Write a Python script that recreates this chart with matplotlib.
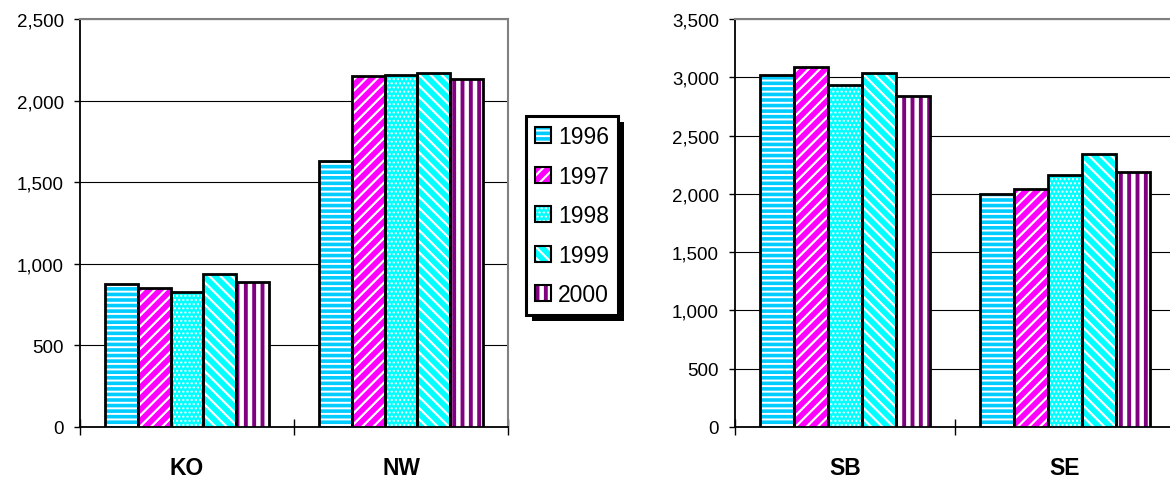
import numpy as np
import matplotlib.pyplot as plt
from matplotlib.patches import Patch, Rectangle
from matplotlib.legend_handler import HandlerTuple, HandlerPatch
from matplotlib.ticker import FuncFormatter

plt.rcParams['font.family'] = ['Liberation Sans', 'DejaVu Sans']

# Daten
years = ['1996', '1997', '1998', '1999', '2000']
regions_left = ['KO', 'NW']
regions_right = ['SB', 'SE']
ko = [876, 852, 827, 937, 888]
nw = [1630, 2149, 2157, 2169, 2132]
sb = [3017, 3085, 2938, 3038, 2838]
se = [2001, 2038, 2160, 2338, 2186]

# Füllfarbe, Schraffur, Schraffurfarbe, Schraffur-Linienbreite
styles = [
    ('#00CCFF', '---', 'white', 1.4),
    ('#FF00FF', '///', 'white', 1.6),
    ('#00FFFF', '....', 'white', 1.0),
    ('#00FFFF', '\\\\\\', 'white', 1.6),
    ('white', '||', '#800080', 2.8),
]


def set_hlw(p, lw):
    if hasattr(p, 'set_hatch_linewidth'):
        p.set_hatch_linewidth(lw)


def copy_patch(new, orig):
    new.update_from(orig)
    if hasattr(orig, 'get_hatch_linewidth'):
        set_hlw(new, orig.get_hatch_linewidth())


def draw_chart(ax, cats, series, ymax):
    n = len(series)
    group = 0.77
    w = group / n
    centers = np.arange(len(cats)) + 0.5
    for i, vals in enumerate(series):
        face, hatch, hcol, hlw = styles[i]
        x = centers - group / 2 + w * (i + 0.5)
        bars = ax.bar(x, vals, w, color=face, edgecolor=hcol, hatch=hatch,
                      linewidth=0, zorder=3)
        for b in bars:
            set_hlw(b, hlw)
        ax.bar(x, vals, w, fill=False, edgecolor='black', linewidth=2, zorder=4)
    ax.set_xlim(0, len(cats))
    ax.set_ylim(0, ymax)
    ax.set_yticks(np.arange(0, ymax + 1, 500))
    ax.yaxis.set_major_formatter(FuncFormatter(lambda v, p: f'{int(v):,}'))
    ax.set_xticks(np.arange(len(cats) + 1))
    ax.set_xticklabels([])
    ax.set_xticks(centers, cats, minor=True)
    ax.tick_params(axis='x', which='major', direction='inout', length=11.5, width=1)
    ax.tick_params(axis='x', which='minor', length=0, pad=21, labelsize=16.5)
    for lab in ax.get_xticklabels(minor=True):
        lab.set_fontweight('bold')
    ax.tick_params(axis='y', direction='out', length=4.5, width=1, pad=7, labelsize=13.5)
    ax.grid(axis='y', color='black', linewidth=0.8)
    ax.set_axisbelow(True)
    for s in ['top', 'right']:
        ax.spines[s].set_color('#808080')
        ax.spines[s].set_linewidth(1.5)
    for s in ['left', 'bottom']:
        ax.spines[s].set_color('black')
        ax.spines[s].set_linewidth(1.3)


fig = plt.figure(figsize=(11.7, 4.81), dpi=100)
ax1 = fig.add_axes([80 / 1170, 1 - 428 / 481, 428 / 1170, 408 / 481])
ax2 = fig.add_axes([735 / 1170, 1 - 428 / 481, 440 / 1170, 408 / 481])

draw_chart(ax1, regions_left, [[ko[i], nw[i]] for i in range(5)], 2500)
draw_chart(ax2, regions_right, [[sb[i], se[i]] for i in range(5)], 3500)

handles = []
for face, hatch, hcol, hlw in styles:
    p1 = Patch(facecolor=face, edgecolor=hcol, hatch=hatch, linewidth=0)
    set_hlw(p1, hlw)
    p2 = Patch(fill=False, edgecolor='black', linewidth=1.5)
    handles.append((p1, p2))

leg = fig.legend(handles, years, loc='upper left',
                 bbox_to_anchor=(526 / 1170, 1 - 117 / 481),
                 borderaxespad=0, fontsize=16.5, fancybox=False,
                 edgecolor='black', framealpha=1,
                 handlelength=0.7, handleheight=0.7, handletextpad=0.3,
                 labelspacing=0.72, borderpad=0.4,
                 handler_map={tuple: HandlerTuple(ndivide=1, pad=0),
                              Patch: HandlerPatch(update_func=copy_patch)})
leg.get_frame().set_linewidth(2.2)
leg.set_zorder(6)

# Schatten der Legende
fig.canvas.draw()
bb = leg.get_window_extent()
shadow = Rectangle((bb.x0 + 6, bb.y0 - 6), bb.width, bb.height,
                   transform=None, facecolor='black', edgecolor='none', zorder=5)
fig.patches.append(shadow)
shadow.set_figure(fig)

fig.savefig('out.png', dpi=100)
